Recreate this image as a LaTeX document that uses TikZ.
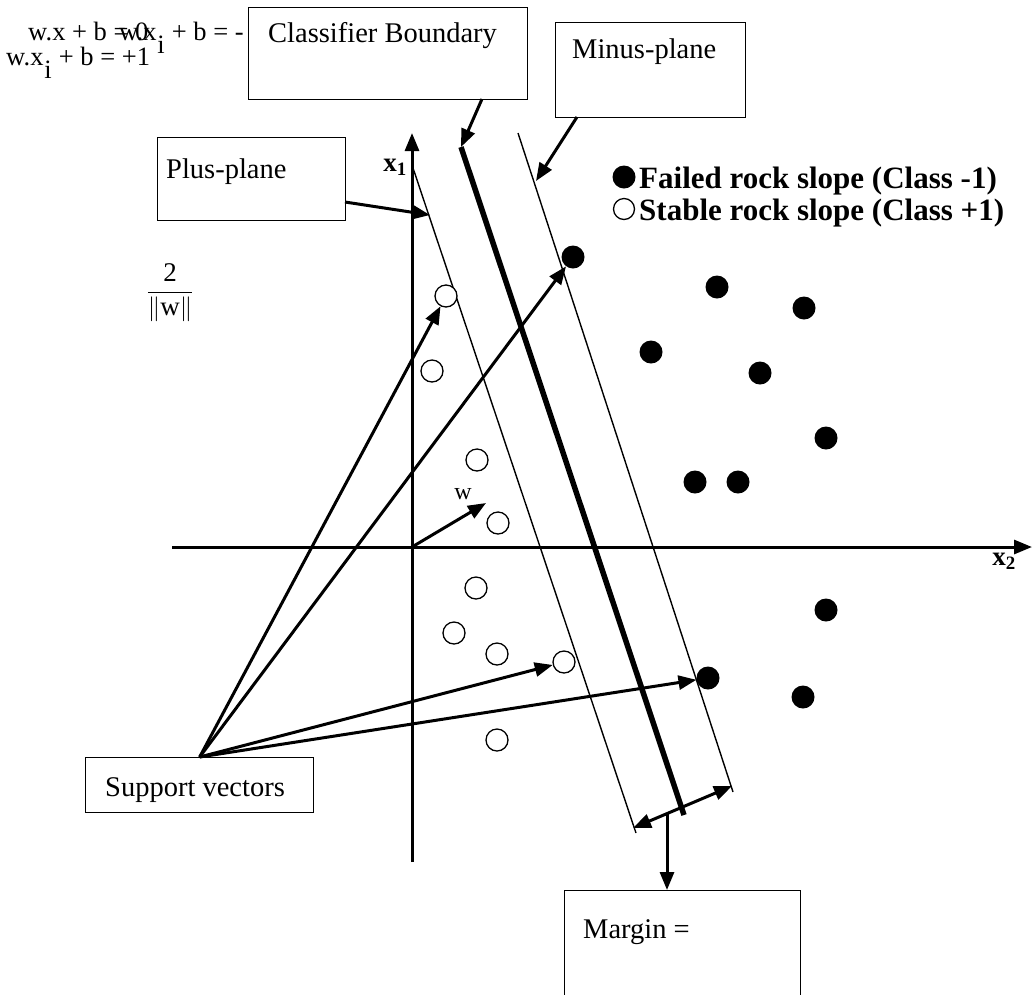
\documentclass[tikz,border=0pt]{standalone}
\usepackage{fontspec}
\setmainfont{Liberation Serif}
\usetikzlibrary{arrows.meta}
\begin{document}
\begin{tikzpicture}[x=1pt,y=-1pt,
  box/.style={draw,line width=1.3pt,inner sep=0,anchor=north west},
  lbl/.style={font=\fontsize{28.5}{30}\selectfont,anchor=base west,inner sep=0},
  eq/.style={font=\fontsize{26.5}{29}\selectfont,anchor=base west,inner sep=0},
  leg/.style={font=\fontsize{31}{33}\selectfont\bfseries,anchor=base west,inner sep=0},
  arr/.style={line width=3pt,-{Triangle[length=18pt,width=14pt]}},
  darr/.style={line width=3pt,{Triangle[length=18pt,width=14pt]}-{Triangle[length=18pt,width=14pt]}},
  fpt/.style={circle,fill=black,minimum size=23pt,inner sep=0},
  opt/.style={circle,draw,line width=1.3pt,fill=white,minimum size=22pt,inner sep=0},
  thin/.style={line width=1.4pt},
]
\useasboundingbox (0,0) rectangle (1032,994);

% equations
\node[eq] (e1) at (28,40) {w.x + b = 0};
\node[eq] (e2) at (119,40) {w.x\hspace{1pt}\raisebox{-13pt}{i}\hspace{7pt}+ b = -};
\node[eq] (e3) at (6,65) {w.x\hspace{1pt}\raisebox{-13pt}{i}\hspace{7pt}+ b = +1};

% boxes
\node[box,minimum width=279pt,minimum height=92pt] (cb) at (248,7) {};
\node[lbl] (cbt) at (268,42) {Classifier Boundary};
\node[box,minimum width=190pt,minimum height=95pt] (mp) at (555,22) {};
\node[lbl] (mpt) at (572,58) {Minus-plane};
\node[box,minimum width=188pt,minimum height=83pt] (pp) at (157,137) {};
\node[lbl] (ppt) at (166,178) {Plus-plane};
\node[box,minimum width=228pt,minimum height=55pt] (sv) at (85,757) {};
\node[lbl] (svt) at (105,796) {Support vectors};
\node[box,minimum width=236pt,minimum height=120pt] (mg) at (564,890) {};
\node[lbl] (mgt) at (583,938) {Margin =};

% axes
\coordinate (o) at (412,547);
\coordinate (ybot) at (412,862);
\coordinate (ytop) at (412,133);
\coordinate (xl) at (172,547);
\coordinate (xr) at (1032,547);
\draw[arr] (ybot) -- (ytop);
\draw[arr] (xl) -- (xr);
\node[font=\fontsize{27}{29}\selectfont\bfseries,inner sep=0] (x1) at (395,167) {x\textsubscript{1}};
\node[font=\fontsize{27}{29}\selectfont\bfseries,inner sep=0] (x2) at (1004,561) {x\textsubscript{2}};

% planes
\coordinate (pt) at (413,168);
\coordinate (pb) at (636,833);
\coordinate (bt) at (461,147);
\coordinate (bb) at (684,815);
\coordinate (mt) at (518,133);
\coordinate (mb) at (733,792);
\draw[thin] (pt) -- (pb);
\draw[line width=5.5pt] (bt) -- (bb);
\draw[thin] (mt) -- (mb);

% box pointers
\coordinate (cbp) at (482,99);
\draw[arr] (cbp) -- (bt);
\coordinate (mpp) at (577,117);
\coordinate (mpt2) at (536,181);
\draw[arr] (mpp) -- (mpt2);
\coordinate (ppp) at (345,202);
\coordinate (ppt2) at (430,215);
\draw[arr] (ppp) -- (ppt2);

% margin
\coordinate (ml) at (633,828);
\coordinate (mr) at (732,786);
\draw[darr] (ml) -- (mr);
\coordinate (mm) at (667,813);
\draw[arr] (mm) -- (mg.north -| mm);

% w vector
\coordinate (wt) at (486,503);
\draw[arr] (o) -- (wt);
\node[font=\fontsize{24}{26}\selectfont,inner sep=0] (wl) at (463,494) {w};

% label 2/||w||
\node[font=\fontsize{27}{29}\selectfont,inner sep=0] (frac) at (170,293) {$\displaystyle\frac{\mathrm{2}}{\left\|\mathrm{w}\right\|}$};

% points
\node[fpt] (f1) at (573,257) {};
\node[fpt] (f2) at (717,287) {};
\node[fpt] (f3) at (804,308) {};
\node[fpt] (f4) at (651,352) {};
\node[fpt] (f5) at (760,373) {};
\node[fpt] (f6) at (826,438) {};
\node[fpt] (f7) at (695,482) {};
\node[fpt] (f8) at (738,482) {};
\node[fpt] (f9) at (826,610) {};
\node[fpt] (f10) at (708,678) {};
\node[fpt] (f11) at (803,697) {};

\node[opt] (o1) at (446,296) {};
\node[opt] (o2) at (432,371) {};
\node[opt] (o3) at (477,460) {};
\node[opt] (o4) at (498,523) {};
\node[opt] (o5) at (476,588) {};
\node[opt] (o6) at (454,633) {};
\node[opt] (o7) at (497,654) {};
\node[opt] (o8) at (564,662) {};
\node[opt] (o9) at (497,740) {};

% support vector arrows
\draw[arr] (sv.north) -- (o1);
\draw[arr] (sv.north) -- (f1);
\draw[arr] (sv.north) -- (o8);
\draw[arr] (sv.north) -- (f10);

% legend
\node[fpt] (lf) at (624,177) {};
\node[leg] (lft) at (639,188) {Failed rock slope (Class -1)};
\node[opt,minimum size=21pt] (lo) at (624,209) {};
\node[leg] (lot) at (639,220) {Stable rock slope (Class +1)};
\end{tikzpicture}
\end{document}
